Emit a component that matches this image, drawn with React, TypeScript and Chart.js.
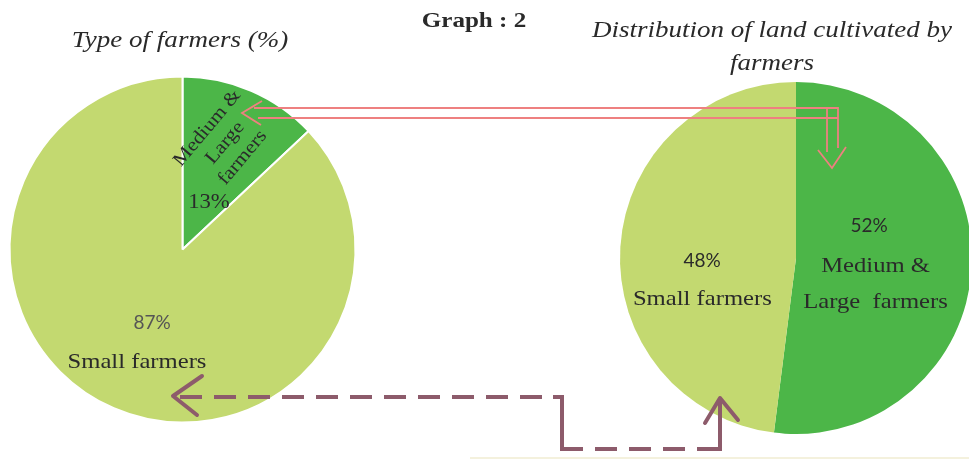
import React, { useEffect, useRef } from "react";
import { Chart, registerables } from "chart.js";

Chart.register(...registerables);

// ---------- data ----------
const categories = ["Medium & Large farmers", "Small farmers"];
const typeOfFarmersPct = [13, 87];
const landCultivatedPct = [52, 48];
const leftNameLines = [["Medium &", "Large", "farmers"], ["Small farmers"]];
const rightNameLines = [["Medium &", "Large  farmers"], ["Small farmers"]];
const graphTitle = "Graph : 2";
const leftTitleLines = ["Type of farmers (%)"];
const rightTitleLines = ["Distribution of land cultivated by", "farmers"];

// ---------- styles ----------
const DARK_GREEN = "#4cb648";
const LIGHT_GREEN = "#c3d970";
const SERIF = '"Times New Roman", "Liberation Serif", Tinos, serif';
const SANS = 'Lato, "Noto Sans", sans-serif';
const TEXT = "#2a2a2a";

type LabelSpec = {
  slice: number;
  kind: "pct" | "name";
  dx: number;
  dy: number;
  font: string;
  sx: number;
  rot?: number;
  lh?: number;
  color?: string;
};

const leftLayout: LabelSpec[] = [
  { slice: 0, kind: "name", dx: 0.246, dy: -0.616, font: `19px ${SERIF}`, sx: 1.12, rot: -50, lh: 23 },
  { slice: 0, kind: "pct", dx: 0.153, dy: -0.24, font: `21px ${SERIF}`, sx: 1.08 },
  { slice: 1, kind: "pct", dx: -0.176, dy: 0.457, font: `19px ${SANS}`, sx: 1.0, color: "#555" },
  { slice: 1, kind: "name", dx: -0.263, dy: 0.685, font: `22px ${SERIF}`, sx: 1.12 },
];

const rightLayout: LabelSpec[] = [
  { slice: 0, kind: "pct", dx: 0.415, dy: -0.148, font: `19px ${SANS}`, sx: 1.0 },
  { slice: 0, kind: "name", dx: 0.452, dy: 0.08, font: `22px ${SERIF}`, sx: 1.12, lh: 36 },
  { slice: 1, kind: "pct", dx: -0.534, dy: 0.051, font: `19px ${SANS}`, sx: 1.0 },
  { slice: 1, kind: "name", dx: -0.532, dy: 0.267, font: `22px ${SERIF}`, sx: 1.12 },
];

function drawText(
  ctx: CanvasRenderingContext2D,
  text: string,
  x: number,
  y: number,
  font: string,
  sx: number,
  color: string,
  baseline: CanvasTextBaseline,
  rot = 0
) {
  ctx.save();
  ctx.translate(x, y);
  if (rot) ctx.rotate(rot);
  ctx.scale(sx, 1);
  ctx.font = font;
  ctx.fillStyle = color;
  ctx.textAlign = "center";
  ctx.textBaseline = baseline;
  ctx.fillText(text, 0, 0);
  ctx.restore();
}

const sliceLabelsPlugin = {
  id: "sliceLabels",
  afterDatasetsDraw(chart: any, _args: any, opts: any) {
    const ctx: CanvasRenderingContext2D = chart.ctx;
    const meta = chart.getDatasetMeta(0);
    const values: number[] = chart.data.datasets[0].data;
    const names: string[][] = opts.names;
    const layout: LabelSpec[] = opts.layout;
    layout.forEach((spec) => {
      const arc = meta.data[spec.slice];
      if (!arc) return;
      const p = arc.getProps(["x", "y", "outerRadius"], true);
      const cx = p.x + spec.dx * p.outerRadius;
      const cy = p.y + spec.dy * p.outerRadius;
      const color = spec.color || TEXT;
      if (spec.kind === "pct") {
        drawText(ctx, `${values[spec.slice]}%`, cx, cy, spec.font, spec.sx, color, "alphabetic");
      } else {
        const lines = names[spec.slice];
        const lh = spec.lh || 24;
        if (spec.rot) {
          const r = (spec.rot * Math.PI) / 180;
          ctx.save();
          ctx.translate(cx, cy);
          ctx.rotate(r);
          lines.forEach((ln, k) => {
            const off = (k - (lines.length - 1) / 2) * lh;
            drawText(ctx, ln, 0, off, spec.font, spec.sx, color, "middle");
          });
          ctx.restore();
        } else {
          lines.forEach((ln, k) => {
            drawText(ctx, ln, cx, cy + k * lh, spec.font, spec.sx, color, "alphabetic");
          });
        }
      }
    });
  },
};

function PieCanvas(props: {
  values: number[];
  names: string[][];
  layout: LabelSpec[];
  padding: { left: number; right: number; top: number; bottom: number };
  borderWidth: number;
}) {
  const ref = useRef<HTMLCanvasElement | null>(null);
  useEffect(() => {
    if (!ref.current) return;
    const chart = new Chart(ref.current, {
      type: "pie",
      data: {
        labels: categories,
        datasets: [
          {
            data: props.values,
            backgroundColor: [DARK_GREEN, LIGHT_GREEN],
            borderColor: "#ffffff",
            borderWidth: props.borderWidth,
          },
        ],
      },
      options: {
        animation: false,
        responsive: true,
        maintainAspectRatio: false,
        events: [],
        layout: { padding: props.padding },
        plugins: {
          legend: { display: false },
          tooltip: { enabled: false },
          title: { display: false },
          sliceLabels: { names: props.names, layout: props.layout },
        } as any,
      },
      plugins: [sliceLabelsPlugin],
    });
    return () => chart.destroy();
  }, []);
  return <canvas ref={ref} />;
}

export default function App() {
  return (
    <div
      style={{
        position: "absolute",
        left: 0,
        top: 0,
        width: 969,
        height: 468,
        overflow: "hidden",
        background: "#ffffff",
      }}
    >
      <div style={{ position: "absolute", left: 0, top: 0, width: 484, height: 468 }}>
        <PieCanvas
          values={typeOfFarmersPct}
          names={leftNameLines}
          layout={leftLayout}
          padding={{ left: 8.5, top: 75.5, right: 127.5, bottom: 44.5 }}
          borderWidth={2}
        />
      </div>
      <div style={{ position: "absolute", left: 484, top: 0, width: 500, height: 468 }}>
        <PieCanvas
          values={landCultivatedPct}
          names={rightNameLines}
          layout={rightLayout}
          padding={{ left: 136, top: 82, right: 12, bottom: 34 }}
          borderWidth={0}
        />
      </div>
      <svg
        width={969}
        height={468}
        style={{ position: "absolute", left: 0, top: 0, pointerEvents: "none" }}
      >
        <g fill={TEXT} fontFamily={SERIF}>
          <text
            transform="translate(474,27) scale(1.14,1)"
            textAnchor="middle"
            fontSize={22}
            fontWeight="bold"
          >
            {graphTitle}
          </text>
          {leftTitleLines.map((t, i) => (
            <text
              key={"l" + i}
              transform={`translate(180,${47 + i * 33}) scale(1.15,1)`}
              textAnchor="middle"
              fontSize={23.5}
              fontStyle="italic"
            >
              {t}
            </text>
          ))}
          {rightTitleLines.map((t, i) => (
            <text
              key={"r" + i}
              transform={`translate(772,${37 + i * 33}) scale(1.15,1)`}
              textAnchor="middle"
              fontSize={23.5}
              fontStyle="italic"
            >
              {t}
            </text>
          ))}
        </g>
        {/* red outlined bent arrow */}
        <g fill="none" stroke="#ee8080" strokeWidth={1.8} strokeLinejoin="miter">
          <path d="M262,101 L242,113 L261,125" />
          <path d="M254,108 H838 V148" />
          <path d="M258,118 H838" />
          <path d="M827,108 V152" />
          <path d="M818,150 L832,168 L846,147" />
        </g>
        {/* purple dashed connector */}
        <g fill="none" stroke="#8d5b6b" strokeWidth={4}>
          <path d="M202,376 L173,396 L197,415" strokeLinejoin="round" strokeLinecap="round" />
          <path d="M180,397 H553" strokeDasharray="22 12" />
          <path d="M553,397 H562 V449 H583" />
          <path d="M595,449 H697" strokeDasharray="22 12" />
          <path d="M697,449 H720 V399" />
          <path d="M705,423 L720,398 L738,420" strokeLinejoin="round" strokeLinecap="round" />
        </g>
        <path d="M470,458 H969" stroke="#f1edd2" strokeWidth={1.5} fill="none" />
      </svg>
    </div>
  );
}
